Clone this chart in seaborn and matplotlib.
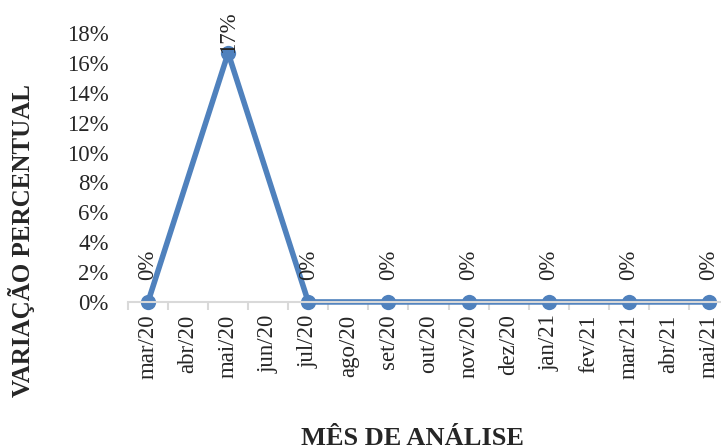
import matplotlib
matplotlib.use("Agg")
import matplotlib.pyplot as plt
import seaborn as sns
import pandas as pd
from matplotlib.ticker import PercentFormatter, FixedLocator

months = ["mar/20", "abr/20", "mai/20", "jun/20", "jul/20", "ago/20", "set/20", "out/20",
          "nov/20", "dez/20", "jan/21", "fev/21", "mar/21", "abr/21", "mai/21"]
point_months = ["mar/20", "mai/20", "jul/20", "set/20", "nov/20", "jan/21", "mar/21", "mai/21"]
variation = [0.0, 0.1667, 0.0, 0.0, 0.0, 0.0, 0.0, 0.0]
labels = ["0%", "17%", "0%", "0%", "0%", "0%", "0%", "0%"]

sns.set_style("white")
plt.rcParams["font.family"] = ["Liberation Serif", "DejaVu Serif"]

df = pd.DataFrame({"pos": [months.index(m) for m in point_months], "var": variation})

fig = plt.figure(figsize=(7.21, 4.48), dpi=100)
ax = fig.add_axes([0.1775, 0.326, 0.8336, 0.6])
blue = "#4F81BD"
sns.lineplot(data=df, x="pos", y="var", ax=ax, color=blue, linewidth=4,
             marker="o", markersize=11, markeredgewidth=0, clip_on=False)

# rótulos de dados (o do pico fica encostado no ponto, como no Excel)
for x, y, t in zip(df["pos"], df["var"], labels):
    off = 0 if y > 0.15 else 16
    ax.annotate(t, (x, y), xytext=(0, off), textcoords="offset points",
                rotation=90, ha="center", va="bottom", fontsize=16.5)

ax.set_xlim(-0.5, 14.5)
ax.set_ylim(0, 0.18)
ax.set_yticks([i * 0.02 for i in range(10)])
ax.yaxis.set_major_formatter(PercentFormatter(1.0, decimals=0))
ax.set_xticks(range(len(months)))
ax.set_xticklabels(months, rotation=90, fontsize=16.5)
ax.xaxis.set_minor_locator(FixedLocator([i - 0.5 for i in range(len(months) + 1)]))
ax.tick_params(axis="x", which="major", length=0, pad=9)
ax.tick_params(axis="x", which="minor", length=6, color="#d9d9d9", width=1.5, bottom=True)
ax.tick_params(axis="y", length=0, labelsize=16.5, pad=14)

for s in ["top", "right", "left"]:
    ax.spines[s].set_visible(False)
ax.spines["bottom"].set_color("#d9d9d9")
ax.spines["bottom"].set_linewidth(1.5)

ax.set_xlabel("MÊS DE ANÁLISE", fontsize=19, fontweight="bold")
ax.set_ylabel("VARIAÇÃO PERCENTUAL", fontsize=18, fontweight="bold")
ax.xaxis.set_label_coords(0.474, -0.465)
ax.yaxis.set_label_coords(-0.155, 0.23)

fig.savefig("out.png", dpi=100)
